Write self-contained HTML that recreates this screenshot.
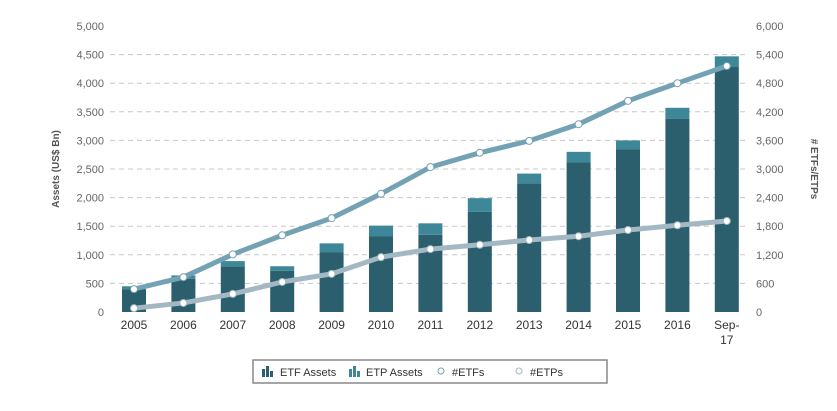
<!DOCTYPE html>
<html><head><meta charset="utf-8"><style>
body{margin:0;background:#fff;width:837px;height:406px;overflow:hidden;font-family:"Liberation Sans",sans-serif}
svg text{font-family:"Liberation Sans",sans-serif}
</style></head><body>
<svg id="c" width="837" height="406"></svg>
<script>
const categories=["2005","2006","2007","2008","2009","2010","2011","2012","2013","2014","2015","2016","Sep-17"];
const etfAssets=[400,580,800,720,1040,1320,1350,1750,2250,2620,2840,3380,4290];
const totalAssets=[450,640,890,800,1200,1510,1550,1990,2420,2800,3000,3570,4470];
const etpCount=[480,730,1210,1610,1970,2480,3040,3340,3590,3940,4430,4800,5160];
const etfCount=[80,190,380,630,800,1150,1320,1410,1510,1590,1720,1820,1910];
const leftTicks=[0,500,1000,1500,2000,2500,3000,3500,4000,4500,5000];
const rightTicks=[0,600,1200,1800,2400,3000,3600,4200,4800,5400,6000];
const NS="http://www.w3.org/2000/svg";
const svg=document.getElementById('c');
function mk(t,a,p){const e=document.createElementNS(NS,t);for(const k in a)e.setAttribute(k,a[k]);(p||svg).appendChild(e);return e;}
const y0=312,yTop=26;
const yL=v=>y0-(v/5000)*(y0-yTop);
const yR=v=>y0-(v/6000)*(y0-yTop);
const xC=i=>134+i*49.4;
// grid + ticks
leftTicks.forEach(v=>{
 if(v>0&&v<5000){const g=mk('line',{x1:110,x2:745,y1:yL(v),y2:yL(v),stroke:'#c8c8c8','stroke-dasharray':'5,4'});
 }
 const t=mk('text',{x:104,y:yL(v)+4,'text-anchor':'end','font-size':11,fill:'#666'});t.textContent=v.toLocaleString('en-US');
 
});
rightTicks.forEach(v=>{
 const t=mk('text',{x:756,y:yR(v)+4,'font-size':11,fill:'#666'});t.textContent=v.toLocaleString('en-US');
 
});
const lt=mk('text',{transform:'translate(59,169) rotate(-90)','text-anchor':'middle','font-size':10,'font-weight':'bold',fill:'#555'});lt.textContent='Assets (US$ Bn)';

const rt=mk('text',{transform:'translate(811,169) rotate(90)','text-anchor':'middle','font-size':10,'font-weight':'bold',fill:'#555'});rt.textContent='# ETFs/ETPs';

// bars
categories.forEach((c,i)=>{
 const x=xC(i)-12;
 const b1=mk('rect',{x:x,y:yL(etfAssets[i]),width:24,height:y0-yL(etfAssets[i]),fill:'#2c5f6e'});
 
 const b2=mk('rect',{x:x,y:yL(totalAssets[i]),width:24,height:yL(etfAssets[i])-yL(totalAssets[i]),fill:'#3e8799'});
 
 const lines=c.split('-');
 lines.forEach((s,j)=>{const t=mk('text',{x:xC(i),y:329+j*15,'text-anchor':'middle','font-size':12,fill:'#333'});t.textContent=s+(j<lines.length-1?'-':'');
 });
});
function series(arr,color,name){
 const p=mk('polyline',{points:arr.map((v,i)=>xC(i)+','+yR(v)).join(' '),fill:'none',stroke:color,'stroke-width':5,'stroke-linejoin':'round'});
 
 arr.forEach((v,i)=>{const d=mk('circle',{cx:xC(i),cy:yR(v),r:3.5,fill:'#fff',stroke:color,'stroke-width':1});
 });
}
series(etfCount,'#a3b8c2','etf-count');
series(etpCount,'#73a2b4','etp-count');
// legend
const lg=mk('g',{});
mk('rect',{x:253,y:360,width:354,height:23,fill:'#fff',stroke:'#888','stroke-width':1.5},lg);
function icon(x,col){mk('rect',{x:x,y:369,width:3,height:8,fill:col},lg);mk('rect',{x:x+4,y:366,width:3,height:11,fill:col},lg);mk('rect',{x:x+8,y:371,width:3,height:6,fill:col},lg);}
icon(262,'#2c5f6e');icon(349,'#3e8799');
const items=[[280,'ETF Assets','etf-assets'],[366,'ETP Assets','etp-assets'],[452,'#ETFs','etf-count'],[530,'#ETPs','etp-count']];
items.forEach(([x,s,n])=>{const t=mk('text',{x:x,y:376,'font-size':11,fill:'#333'},lg);t.textContent=s;
 });
mk('circle',{cx:441,cy:371,r:3,fill:'#fff',stroke:'#73a2b4'},lg);
mk('circle',{cx:519,cy:371,r:3,fill:'#fff',stroke:'#a3b8c2'},lg);
</script>
</body></html>
